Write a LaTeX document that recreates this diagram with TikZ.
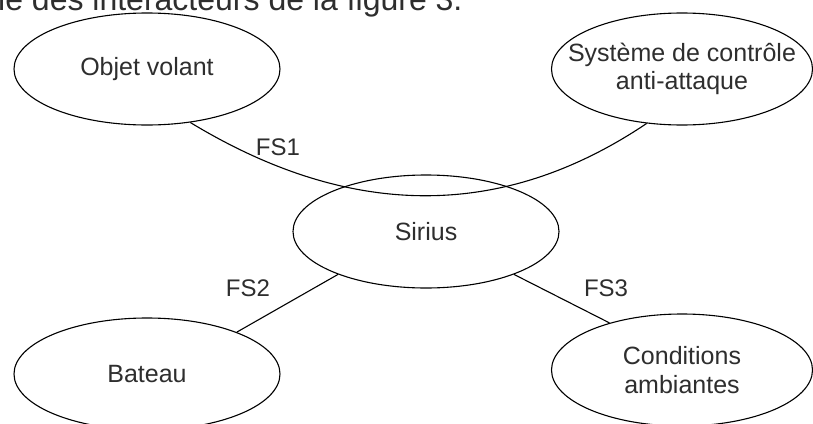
\documentclass[tikz,border=0pt]{standalone}
\usepackage{fontspec}
\setmainfont{Liberation Sans}
\usetikzlibrary{shapes.geometric}
\begin{document}
\begin{tikzpicture}[x=1pt,y=-1pt,
  ell/.style={draw, ellipse, line width=1.1pt, inner sep=0pt, minimum width=266pt, minimum height=112pt},
  txt/.style={font=\fontsize{25}{28.5}\selectfont, align=center, text=black!82, inner sep=0pt},
  lab/.style={font=\fontsize{24}{28}\selectfont, text=black!82, inner sep=0pt},
  conn/.style={line width=1.1pt}]
\useasboundingbox (0,0) rectangle (813,423);
\clip (0,0) rectangle (813,423);
\fill[white] (0,0) rectangle (813,423);
% caption fragment (cut at top, as in the reference)
\node[anchor=base west, font=\fontsize{32}{36}\selectfont, text=black!82, inner sep=0pt] (cap) at (-2,10.5) {le des interacteurs de la figure 3.};
% ellipses
\node[ell] (obj) at (147,69) {};
\node[ell, minimum width=261pt] (sys) at (682,69) {};
\node[ell, minimum height=113pt] (sir) at (426,231.5) {};
\node[ell] (bat) at (147,374) {};
\node[ell, minimum width=261pt] (cond) at (682,370) {};
% texts
\node[txt] (objt) at (obj.center) {Objet volant};
\node[txt] (syst) at (sys.center) {Système de contrôle\\anti-attaque};
\node[txt] (sirt) at (sir.center) {Sirius};
\node[txt] (batt) at (bat.center) {Bateau};
\node[txt] (condt) at (cond.center) {Conditions\\ambiantes};
% connectors
\draw[conn] (obj.-51.5) .. controls (351,220) and (503,220) .. (sys.-123.5);
\draw[conn] (sir.206.3) -- (bat.25.5);
\draw[conn] (sir.-26.8) -- (cond.147);
% labels
\node[lab] (fs1) at (278,147) {FS1};
\node[lab] (fs2) at (248,288) {FS2};
\node[lab] (fs3) at (606,288) {FS3};
\end{tikzpicture}
\end{document}
